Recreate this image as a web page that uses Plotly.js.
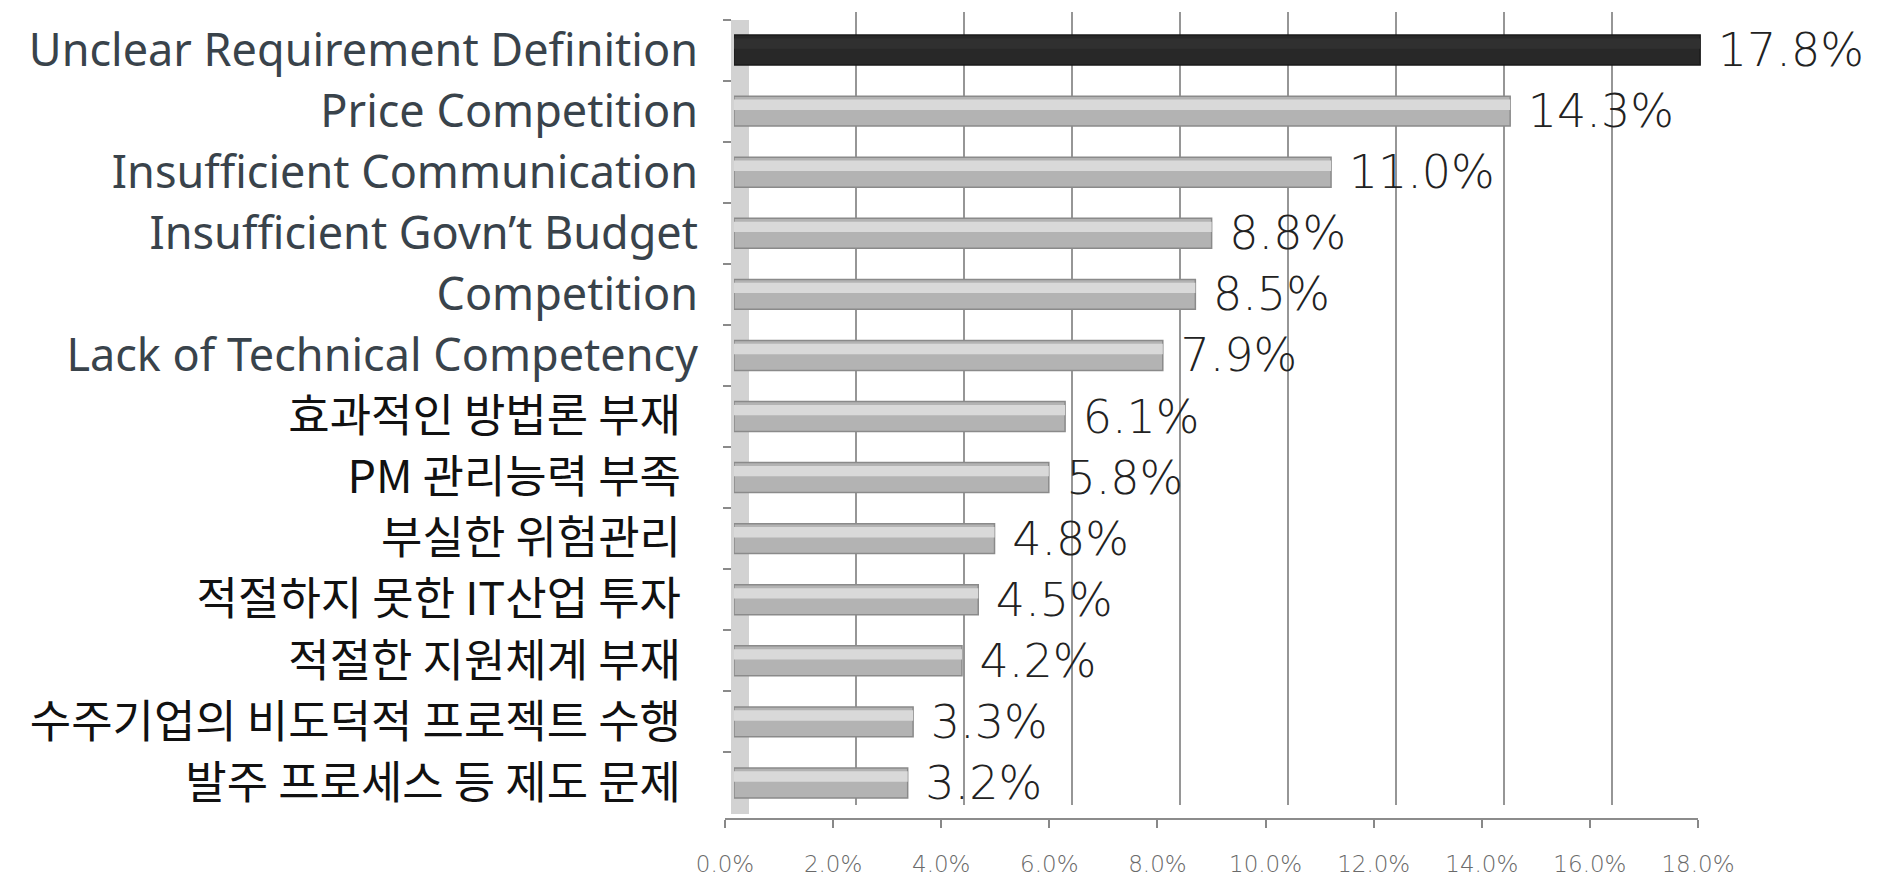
<!DOCTYPE html>
<html>
<head>
<meta charset="utf-8">
<script src="https://cdn.plot.ly/plotly-3.0.1.min.js"></script>
<style>html,body{margin:0;padding:0;background:#fff;}#chart{width:1893px;height:876px;}
#chart text{font-variant-ligatures:none;font-feature-settings:"liga" 0;}</style>
</head>
<body>
<div id="chart"></div>
<script>
// ---- data ----
const categories = [
  "Unclear Requirement Definition",
  "Price Competition",
  "Insufficient Communication",
  "Insufficient Govn’t Budget",
  "Competition",
  "Lack of Technical Competency",
  "효과적인 방법론 부재",
  "PM 관리능력 부족",
  "부실한 위험관리",
  "적절하지 못한 IT산업 투자",
  "적절한 지원체계 부재",
  "수주기업의 비도덕적 프로젝트 수행",
  "발주 프로세스 등 제도 문제"
];
const values = [17.8, 14.3, 11.0, 8.8, 8.5, 7.9, 6.1, 5.8, 4.8, 4.5, 4.2, 3.3, 3.2];
const xTicks = [0, 2, 4, 6, 8, 10, 12, 14, 16, 18];

// ---- styling helpers ----
const W = 1893, H = 876;
const px = v => v / W;
const py = v => (H - v) / H;
const isKorean = s => /[\uac00-\ud7a3]/.test(s);
const tickText = categories.map(c => isKorean(c)
  ? '<span style="font-family:\'Noto Sans CJK KR\';font-size:45px;fill:#111;">' + c +
    '<span style="font-size:34px;">\u2002</span></span>'
  : c);
const baseColors = values.map((v, i) => i === 0 ? '#282828' : '#b3b3b3');
const baseLine = values.map((v, i) => i === 0 ? '#1a1a1a' : '#8a8a8a');
const hiColors = values.map((v, i) => i === 0 ? '#303030' : '#d9d9d9');

const traces = [
  {type: 'scatter', x: values, y: categories, xaxis: 'x', yaxis: 'y', mode: 'markers',
   marker: {opacity: 0}, hoverinfo: 'skip', showlegend: false},
  {type: 'scatter', x: values, y: categories, xaxis: 'x3', yaxis: 'y', mode: 'markers',
   marker: {opacity: 0}, hoverinfo: 'skip', showlegend: false},
  {type: 'bar', orientation: 'h', x: values, y: categories, xaxis: 'x2', yaxis: 'y2',
   width: 0.49,
   marker: {color: baseColors, line: {color: baseLine, width: 1.5}},
   texttemplate: ' %{x:.1f}%', textposition: 'outside', cliponaxis: false, constraintext: 'none',
   textfont: {family: 'DejaVu Sans', size: 46, color: '#222', weight: 300},
   hoverinfo: 'x+y', showlegend: false},
  {type: 'bar', orientation: 'h', x: values, y: categories, xaxis: 'x2', yaxis: 'y2',
   width: 0.17, offset: -0.19,
   marker: {color: hiColors, line: {width: 0}},
   hoverinfo: 'skip', showlegend: false}
];

const layout = {
  width: W, height: H,
  margin: {l: 0, r: 0, t: 0, b: 0, pad: 0},
  paper_bgcolor: '#ffffff',
  plot_bgcolor: 'rgba(0,0,0,0)',
  barmode: 'overlay',
  showlegend: false,
  xaxis: {domain: [px(748), px(1720)], range: [0, 18], anchor: 'y',
          tickmode: 'array', tickvals: xTicks, showgrid: true, gridcolor: '#969696', gridwidth: 2,
          showticklabels: false, ticks: '', zeroline: false, showline: false, fixedrange: true},
  yaxis: {domain: [py(805), py(12)], range: [12.5, -0.5], anchor: 'x',
          showgrid: false, showticklabels: false, ticks: '', zeroline: false, showline: false, fixedrange: true},
  xaxis2: {domain: [px(734), px(1711)], range: [0, 18], anchor: 'y2', visible: false, fixedrange: true},
  yaxis2: {domain: [py(813.5), py(19.5)], range: [12.5, -0.5], anchor: 'free', position: px(740),
           layer: 'below traces',
           showline: true, linewidth: 18, linecolor: '#d2d2d2',
           ticks: 'outside', tickson: 'boundaries', ticklen: 8, tickwidth: 2, tickcolor: '#8a8a8a',
           tickmode: 'array', tickvals: categories, ticktext: tickText,
           ticklabelstandoff: 24,
           tickfont: {family: 'Noto Sans', size: 45, color: '#39434b'},
           showgrid: false, zeroline: false, fixedrange: true},
  xaxis3: {domain: [px(725), px(1698)], range: [0, 18], anchor: 'free', position: py(819),
           tickmode: 'array', tickvals: xTicks, ticktext: xTicks.map(t => t.toFixed(1) + '%'),
           ticks: 'outside', ticklen: 8, tickwidth: 2, tickcolor: '#888',
           showline: true, linecolor: '#8c8c8c', linewidth: 2,
           ticklabelstandoff: 16,
           tickfont: {family: 'DejaVu Sans', size: 23, color: '#6a6a6a', weight: 300},
           showgrid: false, zeroline: false, fixedrange: true}
};

Plotly.newPlot('chart', traces, layout, {displayModeBar: false, staticPlot: true});
</script>
</body>
</html>
